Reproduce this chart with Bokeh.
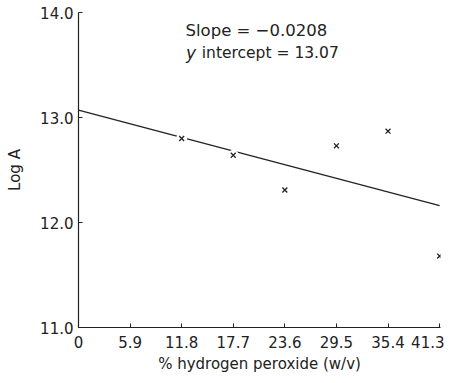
from bokeh.plotting import figure
from bokeh.models import Range1d, FixedTicker, Label
from bokeh.embed import file_html
from bokeh.resources import INLINE

# Data
h2o2 = [11.8, 17.7, 23.6, 29.5, 35.4, 41.3]
log_a = [12.80, 12.64, 12.31, 12.73, 12.87, 11.68]
fit_x = [0.0, 41.3]
fit_y = [13.07, 12.16]
x_ticks = [0, 5.9, 11.8, 17.7, 23.6, 29.5, 35.4, 41.3]
x_tick_labels = ["0", "5.9", "11.8", "17.7", "23.6", "29.5", "35.4", "41.3"]
y_ticks = [11, 12, 13, 14]
y_tick_labels = ["11.0", "12.0", "13.0", "14.0"]

FONT = "DejaVu Sans"

p = figure(width=444, height=375, output_backend="svg", toolbar_location=None,
           x_range=Range1d(0, 41.4), y_range=Range1d(11.0, 14.0),
           min_border_left=78, min_border_right=4, min_border_top=12, min_border_bottom=43)
p.outline_line_color = None
p.grid.visible = False
p.background_fill_color = "white"

p.xaxis.ticker = FixedTicker(ticks=x_ticks)
p.xaxis.major_label_overrides = {t: l for t, l in zip(x_ticks, x_tick_labels)}
p.yaxis.ticker = FixedTicker(ticks=y_ticks)
p.yaxis.major_label_overrides = {t: l for t, l in zip(y_ticks, y_tick_labels)}

for ax in (p.xaxis[0], p.yaxis[0]):
    ax.axis_line_color = "#222222"
    ax.axis_line_width = 1.2
    ax.major_tick_line_color = "#222222"
    ax.major_tick_in = 4
    ax.major_tick_out = 0
    ax.minor_tick_line_color = None
    ax.major_label_text_font = FONT
    ax.major_label_text_font_size = "15px"
    ax.major_label_text_color = "#222222"
    ax.axis_label_text_font = FONT
    ax.axis_label_text_font_size = "15px"
    ax.axis_label_text_font_style = "normal"
    ax.axis_label_text_color = "#222222"

p.xaxis.axis_label = "% hydrogen peroxide (w/v)"
p.yaxis.axis_label = "Log A"
p.xaxis.major_label_standoff = 8
p.xaxis.axis_label_standoff = 4
p.yaxis.major_label_standoff = 5
p.yaxis.axis_label_standoff = 13

p.line(fit_x, fit_y, line_color="#222222", line_width=1.3)
p.scatter(h2o2, log_a, marker="circle", size=11, fill_color="white", line_color=None)
p.scatter(h2o2, log_a, marker="x", size=7, line_color="#222222", line_width=1.3)

p.add_layout(Label(x=12.24, y=13.83, text="Slope = \u22120.0208", text_font=FONT,
                   text_font_size="16.5px", text_color="#222222", text_baseline="middle"))
p.add_layout(Label(x=12.3, y=13.61, text="y", text_font=FONT, text_font_style="italic",
                   text_font_size="17px", text_color="#222222", text_baseline="middle"))
p.add_layout(Label(x=14.1, y=13.61, text="intercept = 13.07", text_font=FONT,
                   text_font_size="15.5px", text_color="#222222", text_baseline="middle"))

open("out.html", "w").write(file_html(p, INLINE))
